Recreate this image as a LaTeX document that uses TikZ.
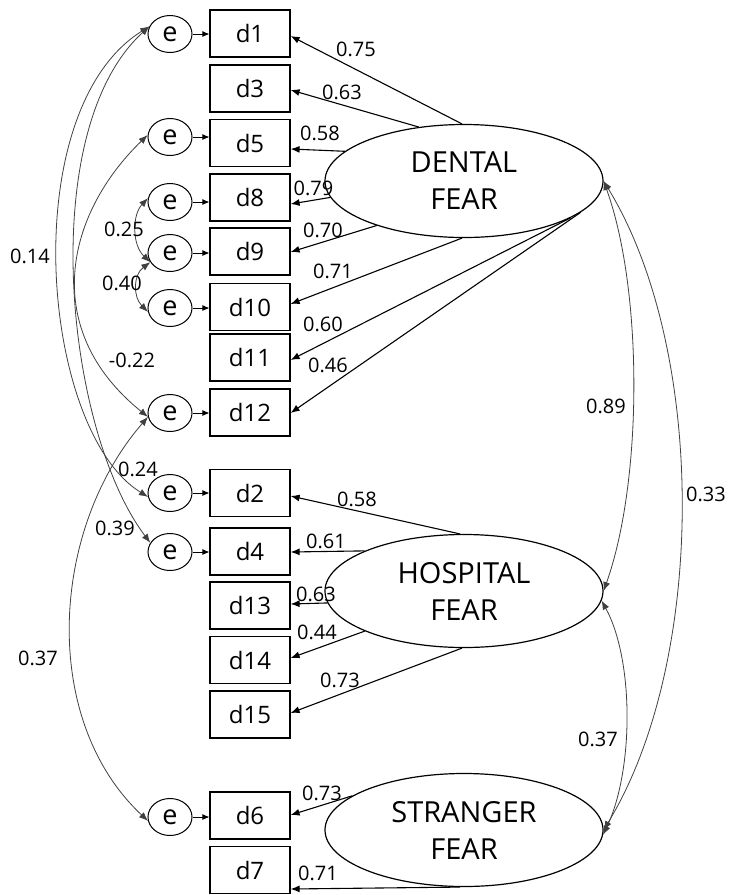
\documentclass[tikz,border=0pt]{standalone}
\usepackage{fontspec}
\newfontfamily\osans{Open Sans}
\usetikzlibrary{shapes}
\usetikzlibrary{arrows.meta}

\tikzset{
  obs/.style={draw, line width=1.2pt, minimum width=80pt, minimum height=47pt,
    inner sep=0pt, font=\osans\fontsize{24}{28}\selectfont},
  err/.style={draw, ellipse, line width=1pt, minimum width=44pt, minimum height=37pt,
    inner sep=0pt, font=\osans\fontsize{27}{30}\selectfont},
  lat/.style={draw, ellipse, line width=1.2pt, minimum width=278pt, minimum height=113pt,
    inner sep=0pt, align=center, font=\osans\fontsize{29}{37}\selectfont},
  num/.style={inner sep=0pt, font=\osans\fontsize{20}{24}\selectfont},
  load/.style={->, line width=1.1pt},
  cov/.style={<->, line width=0.8pt, black!75},
}

\begin{document}
\begin{tikzpicture}[x=1pt, y=1pt, >={Latex[length=9pt,width=7pt]}]
    \useasboundingbox (0,0) rectangle (729,-895);

    % latent factors
    \node[lat] (DF) at (464,-181) {DENTAL\\FEAR};
    \node[lat] (HF) at (464,-591) {HOSPITAL\\FEAR};
    \node[lat] (SF) at (464,-830) {STRANGER\\FEAR};

    % items
    \foreach \n/\y in {1/33.5, 3/88.5, 5/143, 8/197.5, 9/251.5, 10/307, 11/357.5,
      12/412.5, 2/493, 4/551.5, 13/605.5, 14/660, 15/714.5, 6/815.5, 7/870}
      \node[obs] (d\n) at (250,-\y) {d\n};

    % error terms
    \foreach \n/\y in {1/34, 5/137, 8/202, 9/253, 10/308, 12/413, 2/493, 4/552, 6/817}
    {
      \node[err] (e\n) at (170,-\y) {e};
      \draw[->, line width=0.8pt, >={Latex[length=7pt,width=6pt]}]
        (e\n.east) -- (e\n.east -| d\n.west);
    }

    % loadings
    \foreach \f/\n/\a/\s/\val/\lx/\ly in {
      DF/1/92/-2.5/0.75/356/49.5, DF/3/130/-1.5/0.63/342/92,
      DF/5/166/-6/0.58/320/133, DF/8/187/-6.5/0.79/313.5/188,
      DF/9/207/-0.5/0.70/323/230, DF/10/268/3/0.71/333/271.5,
      DF/11/341/-2.5/0.60/323/324, DF/12/345/-0.5/0.46/328/365,
      HF/2/94/-3/0.58/357/499, HF/4/158/-0.5/0.61/326/541,
      HF/13/185/1.5/0.63/316/594, HF/14/202/2/0.44/317/632,
      HF/15/268/1.5/0.73/340/680,
      SF/6/163/0.5/0.73/322/793, SF/7/266/-19/0.71/318/873}
    {
      \draw[load] (\f.\a) -- ([yshift=\s pt]d\n.east);
      \node[num] (l\n) at (\lx,-\ly) {\val};
    }

    % factor covariances
    \draw[cov] (DF.east) .. controls (643,-290) and (643,-480) .. (HF.east);
    \draw[cov] (DF.east) .. controls (707,-350) and (707,-660) .. (SF.east);
    \draw[cov] (HF.-4) .. controls (634,-660) and (634,-770) .. (SF.-2);
    \node[num] (c89) at (606,-406) {0.89};
    \node[num] (c33) at (706,-494) {0.33};
    \node[num] (c37) at (598,-739) {0.37};

    % error covariances
    \draw[cov] (e1.160) .. controls (15,-110) and (40,-430) .. (e2.190);
    \draw[cov] (e1.160) .. controls (35,-130) and (65,-430) .. (e4.155);
    \draw[cov] (e5.175) .. controls (65,-215) and (40,-330) .. (e12.190);
    \draw[cov] (e12.190) .. controls (50,-530) and (40,-720) .. (e6.190);
    \draw[cov] (e8.170) .. controls (132,-215) and (132,-245) .. (e9.205);
    \draw[cov] (e9.205) .. controls (133,-275) and (133,-297) .. (e10.190);
    \node[num] (c14) at (30,-256) {0.14};
    \node[num] (c25) at (124,-229) {0.25};
    \node[num] (c40) at (122,-283) {0.40};
    \node[num] (c22) at (132,-360) {-0.22};
    \node[num] (c24) at (138,-469) {0.24};
    \node[num] (c39) at (115,-528) {0.39};
    \node[num] (c37b) at (38,-658) {0.37};

\end{tikzpicture}
\end{document}
